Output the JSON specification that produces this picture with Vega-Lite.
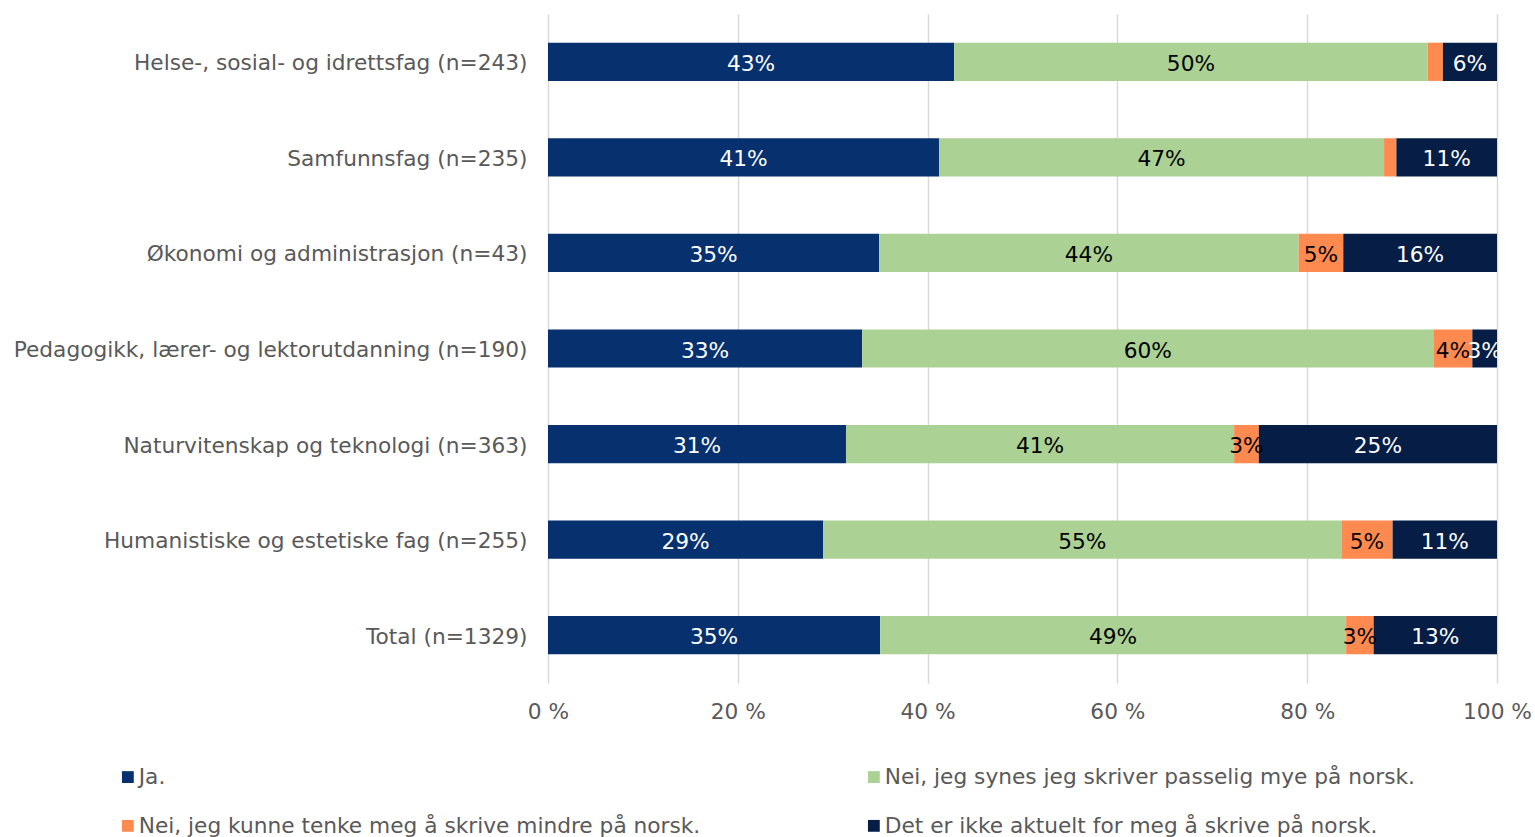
{
  "$schema": "https://vega.github.io/schema/vega-lite/v6.json",
  "autosize": "none",
  "width": 949,
  "height": 669,
  "padding": {"left": 548, "top": 14, "right": 38, "bottom": 154},
  "background": "white",
  "config": {
    "font": "DejaVu Sans",
    "view": {"stroke": null}
  },
  "data": {
    "values": [
      {"cat": "Helse-, sosial- og idrettsfag (n=243)", "ord": 1, "s": "Ja.", "so": 1, "v": 0.428},
      {"cat": "Helse-, sosial- og idrettsfag (n=243)", "ord": 1, "s": "Nei, jeg synes jeg skriver passelig mye på norsk.", "so": 2, "v": 0.499},
      {"cat": "Helse-, sosial- og idrettsfag (n=243)", "ord": 1, "s": "Nei, jeg kunne tenke meg å skrive mindre på norsk.", "so": 3, "v": 0.016},
      {"cat": "Helse-, sosial- og idrettsfag (n=243)", "ord": 1, "s": "Det er ikke aktuelt for meg å skrive på norsk.", "so": 4, "v": 0.057},
      {"cat": "Samfunnsfag (n=235)", "ord": 2, "s": "Ja.", "so": 1, "v": 0.412},
      {"cat": "Samfunnsfag (n=235)", "ord": 2, "s": "Nei, jeg synes jeg skriver passelig mye på norsk.", "so": 2, "v": 0.469},
      {"cat": "Samfunnsfag (n=235)", "ord": 2, "s": "Nei, jeg kunne tenke meg å skrive mindre på norsk.", "so": 3, "v": 0.013},
      {"cat": "Samfunnsfag (n=235)", "ord": 2, "s": "Det er ikke aktuelt for meg å skrive på norsk.", "so": 4, "v": 0.106},
      {"cat": "Økonomi og administrasjon (n=43)", "ord": 3, "s": "Ja.", "so": 1, "v": 0.349},
      {"cat": "Økonomi og administrasjon (n=43)", "ord": 3, "s": "Nei, jeg synes jeg skriver passelig mye på norsk.", "so": 2, "v": 0.442},
      {"cat": "Økonomi og administrasjon (n=43)", "ord": 3, "s": "Nei, jeg kunne tenke meg å skrive mindre på norsk.", "so": 3, "v": 0.047},
      {"cat": "Økonomi og administrasjon (n=43)", "ord": 3, "s": "Det er ikke aktuelt for meg å skrive på norsk.", "so": 4, "v": 0.162},
      {"cat": "Pedagogikk, lærer- og lektorutdanning (n=190)", "ord": 4, "s": "Ja.", "so": 1, "v": 0.331},
      {"cat": "Pedagogikk, lærer- og lektorutdanning (n=190)", "ord": 4, "s": "Nei, jeg synes jeg skriver passelig mye på norsk.", "so": 2, "v": 0.602},
      {"cat": "Pedagogikk, lærer- og lektorutdanning (n=190)", "ord": 4, "s": "Nei, jeg kunne tenke meg å skrive mindre på norsk.", "so": 3, "v": 0.041},
      {"cat": "Pedagogikk, lærer- og lektorutdanning (n=190)", "ord": 4, "s": "Det er ikke aktuelt for meg å skrive på norsk.", "so": 4, "v": 0.026},
      {"cat": "Naturvitenskap og teknologi (n=363)", "ord": 5, "s": "Ja.", "so": 1, "v": 0.314},
      {"cat": "Naturvitenskap og teknologi (n=363)", "ord": 5, "s": "Nei, jeg synes jeg skriver passelig mye på norsk.", "so": 2, "v": 0.409},
      {"cat": "Naturvitenskap og teknologi (n=363)", "ord": 5, "s": "Nei, jeg kunne tenke meg å skrive mindre på norsk.", "so": 3, "v": 0.026},
      {"cat": "Naturvitenskap og teknologi (n=363)", "ord": 5, "s": "Det er ikke aktuelt for meg å skrive på norsk.", "so": 4, "v": 0.251},
      {"cat": "Humanistiske og estetiske fag (n=255)", "ord": 6, "s": "Ja.", "so": 1, "v": 0.290},
      {"cat": "Humanistiske og estetiske fag (n=255)", "ord": 6, "s": "Nei, jeg synes jeg skriver passelig mye på norsk.", "so": 2, "v": 0.546},
      {"cat": "Humanistiske og estetiske fag (n=255)", "ord": 6, "s": "Nei, jeg kunne tenke meg å skrive mindre på norsk.", "so": 3, "v": 0.054},
      {"cat": "Humanistiske og estetiske fag (n=255)", "ord": 6, "s": "Det er ikke aktuelt for meg å skrive på norsk.", "so": 4, "v": 0.110},
      {"cat": "Total (n=1329)", "ord": 7, "s": "Ja.", "so": 1, "v": 0.350},
      {"cat": "Total (n=1329)", "ord": 7, "s": "Nei, jeg synes jeg skriver passelig mye på norsk.", "so": 2, "v": 0.491},
      {"cat": "Total (n=1329)", "ord": 7, "s": "Nei, jeg kunne tenke meg å skrive mindre på norsk.", "so": 3, "v": 0.029},
      {"cat": "Total (n=1329)", "ord": 7, "s": "Det er ikke aktuelt for meg å skrive på norsk.", "so": 4, "v": 0.130}
    ]
  },
  "encoding": {
    "y": {
      "field": "cat", "type": "nominal", "title": null,
      "sort": {"field": "ord", "op": "min"},
      "scale": {"paddingInner": 0.6, "paddingOuter": 0.3},
      "axis": {"domain": false, "ticks": false, "labelFontSize": 21.7, "labelColor": "#595959", "labelPadding": 21, "labelLimit": 600, "labelFont": "DejaVu Sans", "labelOffset": 1.5}
    },
    "x": {
      "field": "v", "type": "quantitative", "stack": "zero", "title": null,
      "scale": {"domain": [0, 1], "nice": false},
      "axis": {"values": [0, 0.2, 0.4, 0.6, 0.8, 1], "labelExpr": "format(datum.value*100, 'd') + ' %'", "domain": false, "ticks": false, "grid": true, "gridColor": "#D9D9D9", "gridWidth": 1.5, "labelFontSize": 21.7, "labelColor": "#595959", "labelPadding": 18, "labelFont": "DejaVu Sans", "labelFlush": false, "labelOverlap": false}
    },
    "order": {"field": "so", "type": "quantitative"}
  },
  "layer": [
    {
      "mark": {"type": "bar"},
      "encoding": {
        "color": {
          "field": "s", "type": "nominal", "title": null,
          "sort": ["Ja.", "Nei, jeg synes jeg skriver passelig mye på norsk.", "Nei, jeg kunne tenke meg å skrive mindre på norsk.", "Det er ikke aktuelt for meg å skrive på norsk."],
          "scale": {
            "domain": ["Ja.", "Nei, jeg synes jeg skriver passelig mye på norsk.", "Nei, jeg kunne tenke meg å skrive mindre på norsk.", "Det er ikke aktuelt for meg å skrive på norsk."],
            "range": ["#06316E", "#ABD194", "#FF8A50", "#061E45"]
          },
          "legend": {
            "orient": "none", "legendX": -431, "legendY": 752, "direction": "horizontal", "columns": 2,
            "columnPadding": 162, "rowPadding": 26, "symbolType": "square", "symbolSize": 140, "symbolStrokeWidth": 0,
            "labelFontSize": 21.7, "labelColor": "#595959", "labelLimit": 700, "labelOffset": 0, "labelFont": "DejaVu Sans"
          }
        }
      }
    },
    {
      "mark": {"type": "text", "fontSize": 21.7, "font": "DejaVu Sans", "baseline": "middle", "align": "center", "dy": 2, "clip": true},
      "encoding": {
        "x": {"field": "v", "type": "quantitative", "stack": "zero", "bandPosition": 0.5},
        "text": {
          "condition": {"test": "datum.v < 0.02", "value": ""},
          "field": "v", "type": "quantitative", "format": ".0%"
        },
        "color": {
          "condition": {"test": "datum.so == 1 || datum.so == 4", "value": "white"},
          "value": "black"
        }
      }
    }
  ]
}
